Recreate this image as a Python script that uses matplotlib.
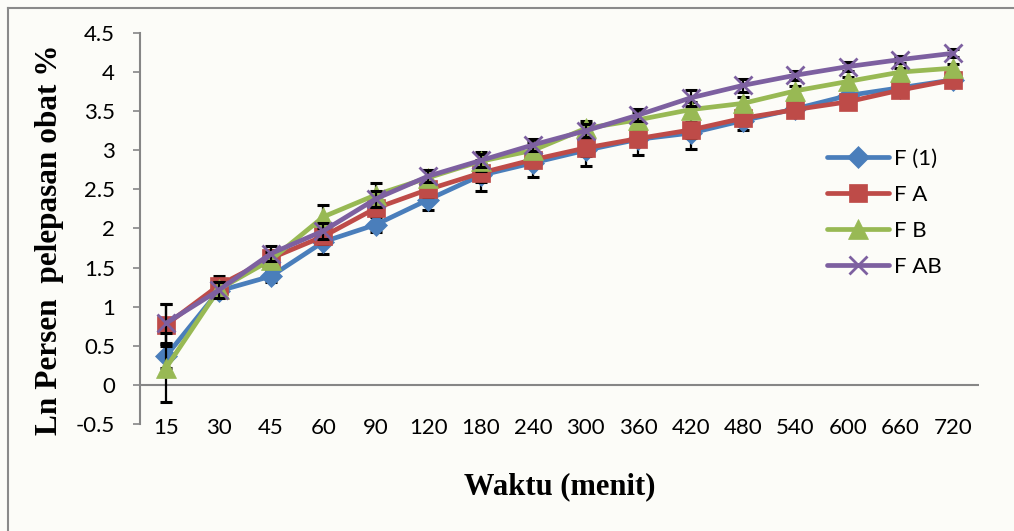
import numpy as np
import matplotlib
matplotlib.use('Agg')
import matplotlib.pyplot as plt
from matplotlib.lines import Line2D

plt.rcParams.update({'font.family': 'Lato', 'font.size': 16})

waktu = ['15', '30', '45', '60', '90', '120', '180', '240', '300', '360',
         '420', '480', '540', '600', '660', '720']

f1 = [0.37, 1.2, 1.39, 1.83, 2.05, 2.37, 2.68, 2.84, 3.0, 3.14, 3.22, 3.38, 3.53, 3.7, 3.8, 3.9]
fa = [0.77, 1.27, 1.62, 1.9, 2.26, 2.5, 2.71, 2.88, 3.03, 3.15, 3.26, 3.41, 3.52, 3.62, 3.77, 3.9]
fb = [0.22, 1.22, 1.6, 2.15, 2.43, 2.65, 2.86, 3.0, 3.28, 3.39, 3.52, 3.6, 3.76, 3.88, 4.0, 4.05]
fab = [0.79, 1.21, 1.68, 1.97, 2.38, 2.67, 2.87, 3.07, 3.25, 3.45, 3.67, 3.83, 3.96, 4.07, 4.16, 4.24]

err_f1 = [0.15, 0.08, 0.08, 0.15, 0.1, 0.13, 0.2, 0.18, 0.2, 0.2, 0.2, 0.12, 0.08, 0.08, 0.06, 0.05]
err_fa = [0.27, 0.12, 0.1, 0.1, 0.1, 0.1, 0.12, 0.1, 0.1, 0.1, 0.1, 0.08, 0.06, 0.06, 0.05, 0.05]
err_fb = [0.44, 0.1, 0.1, 0.15, 0.15, 0.1, 0.12, 0.1, 0.1, 0.1, 0.1, 0.08, 0.06, 0.06, 0.05, 0.05]
err_fab = [0.25, 0.1, 0.1, 0.1, 0.1, 0.08, 0.08, 0.08, 0.08, 0.08, 0.1, 0.08, 0.06, 0.06, 0.05, 0.05]

bg = '#fcfcf8'
fig = plt.figure(figsize=(10.14, 5.31), dpi=100, facecolor=bg)
ax = fig.add_axes([0.138, 0.2015, 0.8275, 0.7364])
ax.set_facecolor(bg)

x = np.arange(len(waktu))
series = [
    ('F (1)', f1, err_f1, '#4a7ebb', 'D', 11),
    ('F A', fa, err_fa, '#be4b48', 's', 13),
    ('F B', fb, err_fb, '#98b954', '^', 14),
    ('F AB', fab, err_fab, '#7d60a0', 'x', 13),
]
for i, (name, vals, err, col, mk, ms) in enumerate(series):
    z = 3 + i * 2
    ax.errorbar(x, vals, yerr=err, fmt='none', ecolor='black', elinewidth=1.6,
                capsize=4.5, capthick=2.2, zorder=z)
    ax.plot(x, vals, color=col, lw=3.4, marker=mk, markersize=ms,
            markeredgewidth=2 if mk == 'x' else 0.5, markeredgecolor=col,
            label=name, zorder=z + 1, solid_capstyle='round')

ax.set_xlim(-0.5, 15.5)
ax.set_ylim(-0.5, 4.5)
ax.set_yticks(np.arange(-0.5, 4.51, 0.5))
ax.set_yticklabels(['-0.5', '0', '0.5', '1', '1.5', '2', '2.5', '3', '3.5', '4', '4.5'])
ax.set_xticks(x)
ax.set_xticklabels(waktu)
ax.axhline(0, color='#868686', lw=1.5, zorder=1)

for s in ['top', 'right', 'bottom']:
    ax.spines[s].set_visible(False)
ax.spines['left'].set_color('#868686')
ax.spines['left'].set_linewidth(1.5)
ax.tick_params(axis='y', direction='out', length=5, width=1.2, color='#868686', pad=13, labelsize=16)
ax.tick_params(axis='x', length=0, pad=-4, labelsize=16)

leg = ax.legend(loc='upper left', bbox_to_anchor=(0.795, 0.755), frameon=False,
                handlelength=2.8, labelspacing=0.72, fontsize=16, handletextpad=0.2)

fig.text(50 / 1014, 1 - 240 / 531, 'Ln Persen  pelepasan obat %', rotation=90,
         ha='center', va='center', family='Liberation Serif', weight='bold', fontsize=22.5)
fig.text(560 / 1014, 1 - 487 / 531, 'Waktu (menit)', ha='center', va='center',
         family='Liberation Serif', weight='bold', fontsize=22)

fig.add_artist(Line2D([8 / 1014, 8 / 1014], [1 - 8 / 531, -0.1], color='#8a8a8a', lw=1.5,
                      transform=fig.transFigure))
fig.add_artist(Line2D([8 / 1014, 1.1], [1 - 8 / 531, 1 - 8 / 531], color='#8a8a8a', lw=1.5,
                      transform=fig.transFigure))

fig.savefig('out.png', dpi=100, facecolor=bg)
